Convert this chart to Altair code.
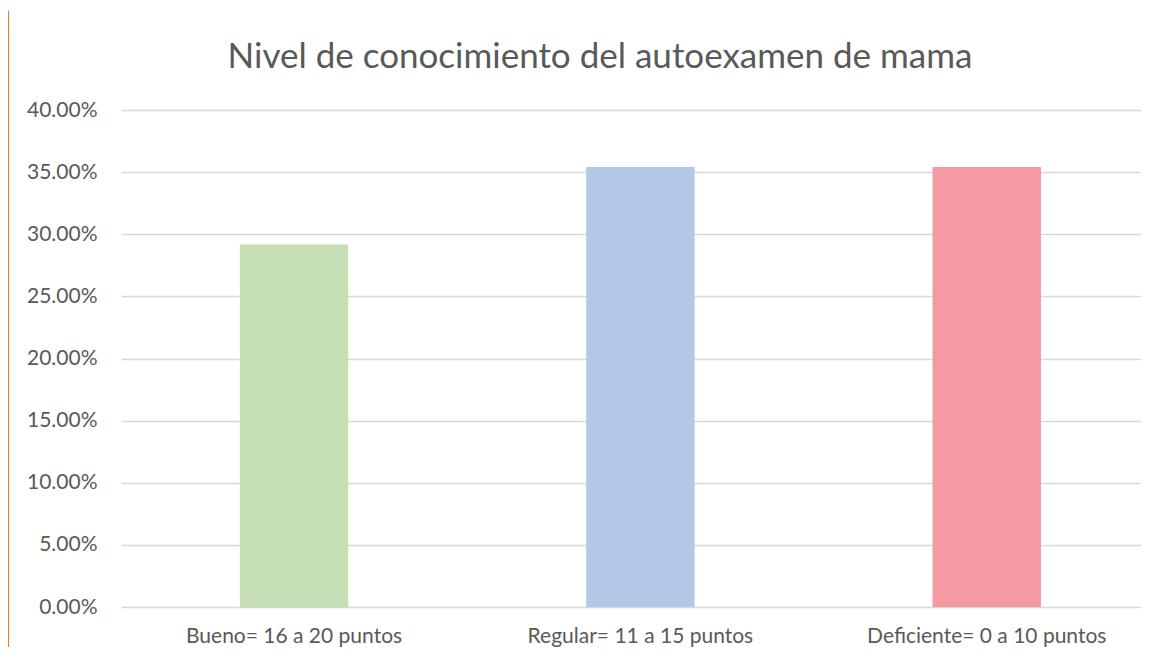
import altair as alt
import pandas as pd

title_text = "Nivel de conocimiento del autoexamen de mama"
categories = ["Bueno= 16 a 20 puntos", "Regular= 11 a 15 puntos", "Deficiente= 0 a 10 puntos"]
values = [0.2917, 0.3542, 0.3542]
colors = ["#C5E0B4", "#B4C7E7", "#F599A2"]
y_ticks = [0, 0.05, 0.10, 0.15, 0.20, 0.25, 0.30, 0.35, 0.40]

df = pd.DataFrame({"cat": categories, "val": values, "color": colors})
tdf = pd.DataFrame({"t": [title_text]})

FONT = "Lato"
W, H = 1020, 497

bars = alt.Chart(df).mark_bar().encode(
    x=alt.X("cat:N", sort=categories, title=None,
            scale=alt.Scale(paddingInner=0.687, paddingOuter=0.316, align=0.543),
            axis=alt.Axis(labelAngle=0, labelFontSize=21, labelColor="#595959",
                          labelFont=FONT, labelPadding=18, ticks=False, domain=False,
                          grid=False, labelLimit=500)),
    y=alt.Y("val:Q", title=None,
            scale=alt.Scale(domain=[0, 0.4], nice=False),
            axis=alt.Axis(values=y_ticks, format=".2%", labelFontSize=21,
                          labelColor="#595959", labelFont=FONT, labelPadding=24,
                          ticks=False, domain=False, grid=True, gridColor="#D9D9D9",
                          gridWidth=1.3)),
    color=alt.Color("color:N", scale=None, legend=None),
)

border = alt.Chart(tdf).mark_rule(color="#ED7D31", strokeWidth=1.2).encode(
    x=alt.value(-112.5), y=alt.value(-99.5), y2=alt.value(H + 50)
)

title = alt.Chart(tdf).mark_text(
    font=FONT, fontSize=35, color="#595959", align="center", baseline="alphabetic"
).encode(x=alt.value(479), y=alt.value(-42), text="t:N")

chart = alt.layer(border, title, bars).properties(
    width=W, height=H,
    background="white",
    autosize=alt.AutoSizeParams(type="none"),
    padding={"left": 113, "top": 102, "right": 0, "bottom": 40},
).configure_view(stroke="transparent", strokeWidth=0).configure_axis(
    domain=False, ticks=False
).configure_axisX(grid=False)

chart.save("out.html", embed_options={"renderer": "svg", "actions": False})
